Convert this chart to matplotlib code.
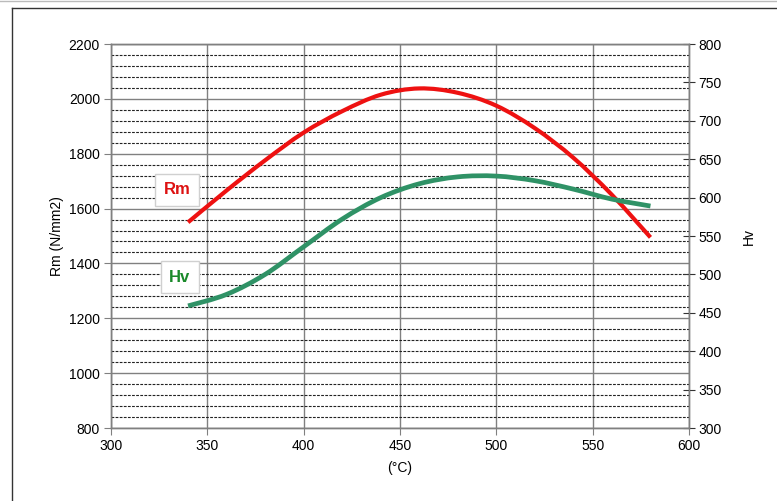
import matplotlib
matplotlib.use("Agg")
import matplotlib.pyplot as plt
import numpy as np
from matplotlib.path import Path
from matplotlib.patches import PathPatch
from matplotlib.lines import Line2D
from matplotlib.ticker import MultipleLocator

plt.rcParams['font.family'] = ['Liberation Sans', 'DejaVu Sans']

# Data
temperature = [340, 360, 380, 400, 420, 440, 460, 480, 500, 520, 540, 560, 580]
rm_values = [1550, 1666, 1776, 1877, 1955, 2015, 2038, 2022, 1975, 1893, 1785, 1650, 1495]
hv_values = [459, 474, 500, 536, 572, 600, 618, 627, 628, 622, 611, 598, 589]

x_ticks = [300, 350, 400, 450, 500, 550, 600]
rm_ticks = [800, 1000, 1200, 1400, 1600, 1800, 2000, 2200]
hv_ticks = [300, 350, 400, 450, 500, 550, 600, 650, 700, 750, 800]

RED = '#ee1111'
GREEN = '#2f9266'


def smooth_path(xs, ys):
    """Catmull-Rom style Bezier path through the given points."""
    xs = np.asarray(xs, float)
    ys = np.asarray(ys, float)
    n = len(xs)
    verts = [(xs[0], ys[0])]
    codes = [Path.MOVETO]
    t = 1.0 / 6.0
    for i in range(n - 1):
        x0, y0 = (xs[i - 1], ys[i - 1]) if i > 0 else (xs[i], ys[i])
        x1, y1 = xs[i], ys[i]
        x2, y2 = xs[i + 1], ys[i + 1]
        x3, y3 = (xs[i + 2], ys[i + 2]) if i + 2 < n else (x2, y2)
        c1 = (x1 + (x2 - x0) * t, y1 + (y2 - y0) * t)
        c2 = (x2 - (x3 - x1) * t, y2 - (y3 - y1) * t)
        verts += [c1, c2, (x2, y2)]
        codes += [Path.CURVE4] * 3
    return Path(verts, codes)


fig = plt.figure(figsize=(7.77, 5.01), dpi=100)
ax = fig.add_axes([111 / 777, 1 - 428 / 501, (689 - 111) / 777, (428 - 44) / 501])

ax.set_xlim(300, 600)
ax.set_ylim(800, 2200)
ax.set_xticks(x_ticks)
ax.set_yticks(rm_ticks)
ax.yaxis.set_minor_locator(MultipleLocator(40))

# grid
ax.grid(which='major', axis='both', color='#808080', linewidth=1.0, linestyle='-')
ax.grid(which='minor', axis='y', color='#222222', linewidth=0.8, linestyle=(0, (2.5, 1.2)))
ax.set_axisbelow(True)
ax.tick_params(which='minor', length=0)
ax.tick_params(which='major', direction='out', length=5, color='#808080',
               labelsize=10, pad=3)

for s in ax.spines.values():
    s.set_color('#808080')
    s.set_linewidth(1.0)

ax.set_ylabel('Rm (N/mm2)', fontsize=10, labelpad=3)
ax.set_xlabel('(°C)', fontsize=10, labelpad=6)

ax2 = ax.twinx()
ax2.set_ylim(300, 800)
ax2.set_yticks(hv_ticks)
ax2.tick_params(direction='inout', length=8, color='#333333', labelsize=10, pad=3)
for s in ax2.spines.values():
    s.set_color('#808080')
    s.set_linewidth(1.0)
ax2.set_ylabel('Hv', fontsize=10, labelpad=14, rotation=90)

# curves
ax.add_patch(PathPatch(smooth_path(temperature, rm_values), fill=False,
                       edgecolor=RED, linewidth=3.0, capstyle='butt', zorder=5))
ax2.add_patch(PathPatch(smooth_path(temperature, hv_values), fill=False,
                        edgecolor=GREEN, linewidth=3.4, capstyle='butt', zorder=4))

# labels in boxes
fig.text(177 / 777, 1 - 190 / 501, 'Rm', color='#dd1111', fontsize=12, fontweight='bold',
         ha='center', va='center', bbox=dict(boxstyle='square,pad=0.5', facecolor='white',
                                                edgecolor='#d0d0d0', linewidth=1.0))
fig.text(180 / 777, 1 - 277 / 501, 'Hv', color='#1a8a2a', fontsize=12, fontweight='bold',
         ha='center', va='center', bbox=dict(boxstyle='square,pad=0.5', facecolor='white',
                                                edgecolor='#d0d0d0', linewidth=1.0))

# outer frame lines
fig.add_artist(Line2D([12 / 777, 12 / 777], [0, 1 - 8 / 501], transform=fig.transFigure,
                      color='#333333', linewidth=1.0))
fig.add_artist(Line2D([12 / 777, 1], [1 - 8 / 501, 1 - 8 / 501], transform=fig.transFigure,
                      color='#333333', linewidth=1.0))
fig.add_artist(Line2D([0, 1], [1 - 0.5 / 501, 1 - 0.5 / 501], transform=fig.transFigure,
                      color='#bbbbbb', linewidth=1.0))

fig.savefig('out.png', dpi=100)
